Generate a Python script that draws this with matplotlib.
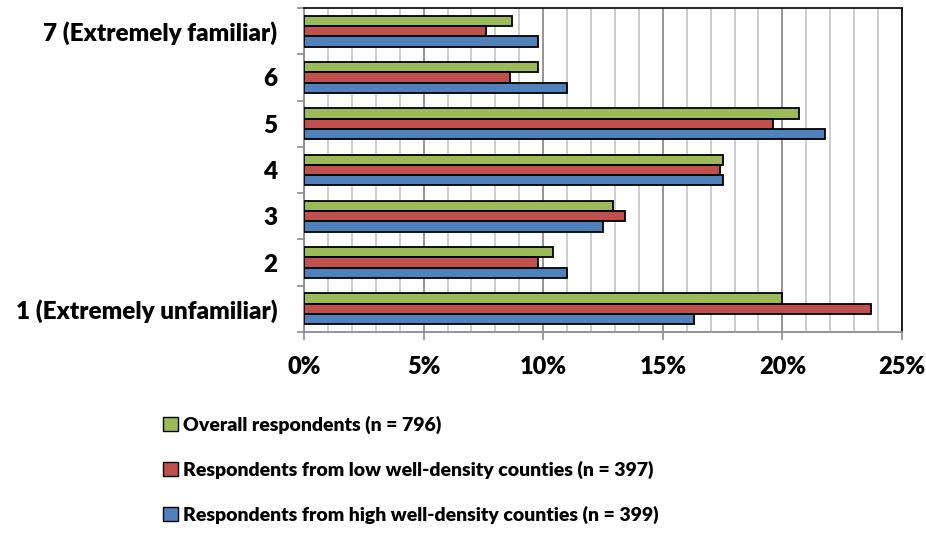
import matplotlib
matplotlib.use("Agg")
import matplotlib.pyplot as plt
from matplotlib.ticker import MultipleLocator, FixedLocator, FuncFormatter
from matplotlib.patches import Patch
import numpy as np

categories = ["1 (Extremely unfamiliar)", "2", "3", "4", "5", "6", "7 (Extremely familiar)"]
overall = [20.0, 10.4, 12.9, 17.5, 20.7, 9.8, 8.7]
low_density = [23.7, 9.8, 13.4, 17.4, 19.6, 8.6, 7.6]
high_density = [16.3, 11.0, 12.5, 17.5, 21.8, 11.0, 9.8]
series_labels = ["Overall respondents (n = 796)",
                 "Respondents from low well-density counties (n = 397)",
                 "Respondents from high well-density counties (n = 399)"]
colors = ["#9BBB59", "#C0504D", "#4F81BD"]
xticks = [0, 5, 10, 15, 20, 25]

plt.rcParams['font.family'] = ['Lato', 'DejaVu Sans']
plt.rcParams['font.weight'] = 'heavy'

fig = plt.figure(figsize=(9.26, 5.33), dpi=100)
ax = fig.add_axes([304/926, 1-332/533, (902-304)/926, (332-8)/533])

y = np.arange(len(categories))
h = 0.223
ax.barh(y + h, overall, height=h, color=colors[0], edgecolor="black", linewidth=1.3, zorder=3, label=series_labels[0])
ax.barh(y, low_density, height=h, color=colors[1], edgecolor="black", linewidth=1.3, zorder=3, label=series_labels[1])
ax.barh(y - h, high_density, height=h, color=colors[2], edgecolor="black", linewidth=1.3, zorder=3, label=series_labels[2])

ax.set_xlim(0, 25)
ax.set_ylim(-0.5, len(categories) - 0.5)
ax.xaxis.set_major_locator(FixedLocator(xticks))
ax.xaxis.set_minor_locator(MultipleLocator(1))
ax.xaxis.set_major_formatter(FuncFormatter(lambda v, p: f"{int(v)}%"))
ax.grid(True, which="minor", axis="x", color="#C8C8C8", linewidth=1.3, zorder=0)
ax.grid(True, which="major", axis="x", color="#8C8C8C", linewidth=1.3, zorder=0)
ax.tick_params(axis="x", which="major", length=6, width=1.2, color="#8C8C8C", pad=11, labelsize=17)
ax.tick_params(axis="x", which="minor", length=0)

ax.set_yticks(y)
ax.set_yticklabels(categories)
ax.yaxis.set_minor_locator(FixedLocator(np.arange(-0.5, len(categories), 1)))
ax.tick_params(axis="y", which="major", length=0, pad=19, labelsize=17.5)
ax.tick_params(axis="y", which="minor", length=5, width=1.2, color="#8C8C8C")

for s in ["left", "bottom"]:
    ax.spines[s].set_color("#8C8C8C")
    ax.spines[s].set_linewidth(1.3)
for s in ["top", "right"]:
    ax.spines[s].set_color("black")
    ax.spines[s].set_linewidth(1.2)
ax.set_axisbelow(True)

handles = [Patch(facecolor=c, edgecolor="black", linewidth=1.0) for c in colors]
fig.legend(handles, series_labels, loc="upper left", bbox_to_anchor=(163/926, 1-416/533),
           frameon=False, fontsize=14, handlelength=0.75, handleheight=0.75,
           handletextpad=0.3, labelspacing=1.37, borderaxespad=0, borderpad=0)

fig.savefig("out.png", dpi=100)
